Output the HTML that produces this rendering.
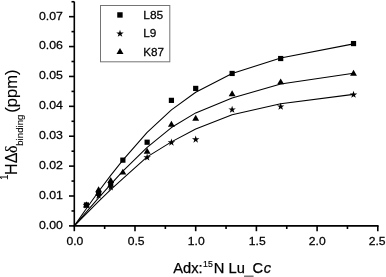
<!DOCTYPE html>
<html><head><meta charset="utf-8"><title>plot</title>
<style>
html,body{margin:0;padding:0;background:#fff;}
svg{display:block}
text{font-family:"Liberation Sans",sans-serif;fill:#000}
.t{font-size:12px}
</style></head><body>
<svg width="386" height="277" viewBox="0 0 386 277">
<rect width="386" height="277" fill="#fff"/>
<g fill="none" stroke="#000" stroke-width="1.05" stroke-linejoin="round">
<polyline points="74.30,225.90 86.44,208.56 98.58,191.53 110.72,175.39 122.86,160.14 147.14,132.34 171.42,109.93 195.70,92.29 232.12,73.46 280.68,57.92 353.52,43.87"/>
<polyline points="74.30,225.90 86.44,211.85 98.58,197.80 110.72,184.35 122.86,171.20 147.14,147.29 171.42,127.56 195.70,112.92 232.12,97.97 280.68,83.92 353.52,73.16"/>
<polyline points="74.30,225.90 86.44,213.65 98.58,201.39 110.72,189.73 122.86,178.67 147.14,156.85 171.42,141.91 195.70,129.06 232.12,114.71 280.68,103.65 353.52,94.38"/>
</g>
<g fill="#000">
<rect x="83.84" y="202.38" width="5.2" height="5.2"/>
<rect x="95.98" y="190.42" width="5.2" height="5.2"/>
<rect x="108.12" y="181.45" width="5.2" height="5.2"/>
<rect x="120.26" y="157.54" width="5.2" height="5.2"/>
<rect x="144.54" y="139.61" width="5.2" height="5.2"/>
<rect x="168.82" y="97.76" width="5.2" height="5.2"/>
<rect x="193.10" y="85.81" width="5.2" height="5.2"/>
<rect x="229.52" y="70.86" width="5.2" height="5.2"/>
<rect x="278.08" y="55.92" width="5.2" height="5.2"/>
<rect x="350.92" y="40.97" width="5.2" height="5.2"/>
<path d="M86.44 201.38L87.32 204.06L90.15 204.07L87.87 205.74L88.73 208.43L86.44 206.78L84.15 208.43L85.01 205.74L82.73 204.07L85.56 204.06Z"/>
<path d="M98.58 191.81L99.46 194.50L102.29 194.51L100.01 196.18L100.87 198.87L98.58 197.21L96.29 198.87L97.15 196.18L94.87 194.51L97.70 194.50Z"/>
<path d="M110.72 183.44L111.60 186.13L114.43 186.14L112.15 187.81L113.01 190.50L110.72 188.84L108.43 190.50L109.29 187.81L107.01 186.14L109.84 186.13Z"/>
<path d="M147.14 153.55L148.02 156.24L150.85 156.25L148.57 157.92L149.43 160.61L147.14 158.95L144.85 160.61L145.71 157.92L143.43 156.25L146.26 156.24Z"/>
<path d="M171.42 138.61L172.30 141.29L175.13 141.30L172.85 142.97L173.71 145.66L171.42 144.01L169.13 145.66L169.99 142.97L167.71 141.30L170.54 141.29Z"/>
<path d="M195.70 135.62L196.58 138.31L199.41 138.31L197.13 139.98L197.99 142.67L195.70 141.02L193.41 142.67L194.27 139.98L191.99 138.31L194.82 138.31Z"/>
<path d="M232.12 105.73L233.00 108.42L235.83 108.42L233.55 110.09L234.41 112.78L232.12 111.13L229.83 112.78L230.69 110.09L228.41 108.42L231.24 108.42Z"/>
<path d="M280.68 102.74L281.56 105.43L284.39 105.43L282.11 107.10L282.97 109.80L280.68 108.14L278.39 109.80L279.25 107.10L276.97 105.43L279.80 105.43Z"/>
<path d="M353.52 90.78L354.40 93.47L357.23 93.48L354.95 95.15L355.81 97.84L353.52 96.18L351.23 97.84L352.09 95.15L349.81 93.48L352.64 93.47Z"/>
<path d="M86.44 201.56L89.89 207.46L82.99 207.46Z"/>
<path d="M98.58 186.31L102.03 192.21L95.13 192.21Z"/>
<path d="M110.72 177.05L114.17 182.95L107.27 182.95Z"/>
<path d="M122.86 168.68L126.31 174.58L119.41 174.58Z"/>
<path d="M147.14 147.75L150.59 153.65L143.69 153.65Z"/>
<path d="M171.42 120.85L174.87 126.75L167.97 126.75Z"/>
<path d="M195.70 114.87L199.15 120.77L192.25 120.77Z"/>
<path d="M232.12 90.36L235.57 96.26L228.67 96.26Z"/>
<path d="M280.68 78.41L284.13 84.31L277.23 84.31Z"/>
<path d="M353.52 69.74L356.97 75.64L350.07 75.64Z"/>
</g>
<g stroke="#000" stroke-width="1.6" fill="none">
<path d="M74.3 1.6V225.9"/>
<path d="M73.55 225.9H378.6"/>
<path d="M69.0 225.90H74.3"/>
<path d="M71.5 210.96H74.3"/>
<path d="M69.0 196.01H74.3"/>
<path d="M71.5 181.06H74.3"/>
<path d="M69.0 166.12H74.3"/>
<path d="M71.5 151.18H74.3"/>
<path d="M69.0 136.23H74.3"/>
<path d="M71.5 121.28H74.3"/>
<path d="M69.0 106.34H74.3"/>
<path d="M71.5 91.40H74.3"/>
<path d="M69.0 76.45H74.3"/>
<path d="M71.5 61.50H74.3"/>
<path d="M69.0 46.56H74.3"/>
<path d="M71.5 31.62H74.3"/>
<path d="M69.0 16.67H74.3"/>
<path d="M71.5 1.73H74.3"/>
<path d="M74.30 225.9V231.20000000000002"/>
<path d="M104.65 225.9V229.0"/>
<path d="M135.00 225.9V231.20000000000002"/>
<path d="M165.35 225.9V229.0"/>
<path d="M195.70 225.9V231.20000000000002"/>
<path d="M226.05 225.9V229.0"/>
<path d="M256.40 225.9V231.20000000000002"/>
<path d="M286.75 225.9V229.0"/>
<path d="M317.10 225.9V231.20000000000002"/>
<path d="M347.45 225.9V229.0"/>
<path d="M377.80 225.9V231.20000000000002"/>
</g>
<g stroke="#000" stroke-width="0.25">
<text transform="translate(62.90,228.80) scale(1.08,1)" font-size="11.4" text-anchor="end">0.00</text>
<text transform="translate(62.90,198.91) scale(1.08,1)" font-size="11.4" text-anchor="end">0.01</text>
<text transform="translate(62.90,169.02) scale(1.08,1)" font-size="11.4" text-anchor="end">0.02</text>
<text transform="translate(62.90,139.13) scale(1.08,1)" font-size="11.4" text-anchor="end">0.03</text>
<text transform="translate(62.90,109.24) scale(1.08,1)" font-size="11.4" text-anchor="end">0.04</text>
<text transform="translate(62.90,79.35) scale(1.08,1)" font-size="11.4" text-anchor="end">0.05</text>
<text transform="translate(62.90,49.46) scale(1.08,1)" font-size="11.4" text-anchor="end">0.06</text>
<text transform="translate(62.90,19.57) scale(1.08,1)" font-size="11.4" text-anchor="end">0.07</text>
<text transform="translate(74.90,245.10) scale(1.03,1)" font-size="11.8" text-anchor="middle">0.0</text>
<text transform="translate(136.10,245.10) scale(1.03,1)" font-size="11.8" text-anchor="middle">0.5</text>
<text transform="translate(196.30,245.10) scale(1.03,1)" font-size="11.8" text-anchor="middle">1.0</text>
<text transform="translate(257.20,245.10) scale(1.03,1)" font-size="11.8" text-anchor="middle">1.5</text>
<text transform="translate(317.20,245.10) scale(1.03,1)" font-size="11.8" text-anchor="middle">2.0</text>
<text transform="translate(377.10,245.10) scale(1.03,1)" font-size="11.8" text-anchor="middle">2.5</text>
</g>
<rect x="100.5" y="5.5" width="69.3" height="56.3" fill="#fff" stroke="#747474" stroke-width="1"/>
<g fill="#000"><rect x="117.25" y="12.25" width="5.4" height="5.4"/><path d="M120.00 29.80L120.88 32.49L123.71 32.49L121.43 34.16L122.29 36.86L120.00 35.20L117.71 36.86L118.57 34.16L116.29 32.49L119.12 32.49Z"/><path d="M120.00 48.02L123.50 54.02L116.50 54.02Z"/></g>
<g stroke="#000" stroke-width="0.25"><text transform="translate(143.30,19.00) scale(1.03,1)" font-size="11.6" text-anchor="start">L85</text><text transform="translate(143.30,37.20) scale(1.02,1)" font-size="11.6" text-anchor="start">L9</text><text transform="translate(143.30,56.00) scale(1.01,1)" font-size="11.6" text-anchor="start">K87</text></g>
<text x="173.3" y="273.4" font-size="14.7" stroke="#000" stroke-width="0.25"><tspan>Adx:</tspan><tspan x="213.85">N Lu</tspan><tspan dy="0.6" dx="-0.2" fill="#777" stroke="#777" stroke-width="0.9">_</tspan><tspan dy="-0.6" dx="-0.3">C</tspan><tspan font-style="italic" dx="0.6">c</tspan></text>
<text transform="translate(207.9,266.9) scale(0.92,1)" font-size="9.5" text-anchor="middle" stroke="#000" stroke-width="0.2">15</text>
<g transform="translate(16.7,174.9) rotate(-90)" stroke="#000" stroke-width="0.12" font-size="16">
<text transform="translate(-5.2,-9.1)" font-size="10" stroke="none">1</text>
<text transform="translate(0,0)">HΔ<tspan font-family="Liberation Serif, serif" font-size="16" dx="-0.3">δ</tspan></text>
<text transform="translate(29.1,6)" font-size="9.7">binding</text>
<text transform="translate(62.2,0)" font-size="16.5">(ppm)</text>
</g>
</svg></body></html>
